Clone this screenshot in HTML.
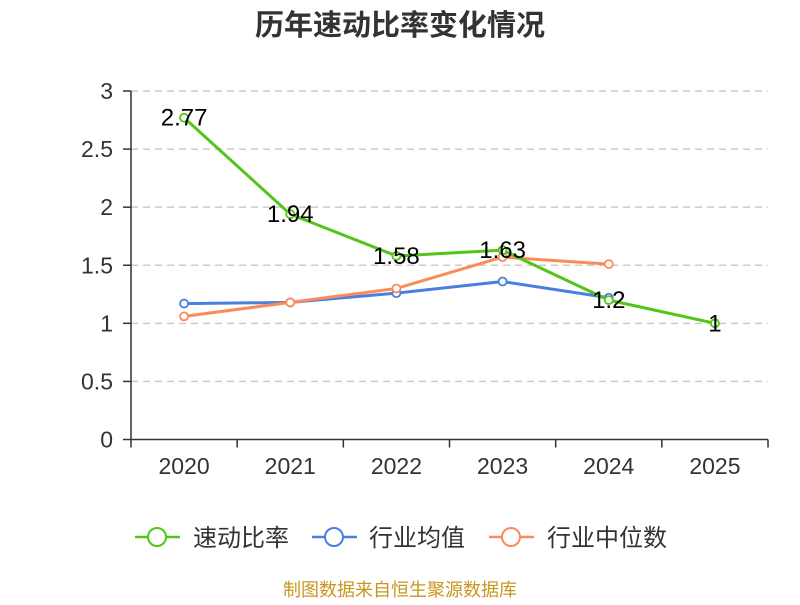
<!DOCTYPE html>
<html><head><meta charset="utf-8"><style>
body{margin:0;background:#fff;}
svg text{font-family:"Liberation Sans","Noto Sans CJK SC",sans-serif;}
</style></head><body>
<svg id="chart" width="800" height="600" viewBox="0 0 800 600">
<text x="400" y="35" text-anchor="middle" font-size="29" font-weight="bold" fill="#333">历年速动比率变化情况</text>
<g id="grid"></g><g id="axes"></g><g id="series"></g><g id="labels"></g>
<g>
<g><line x1="135" y1="537" x2="180" y2="537" stroke="#52c41a" stroke-width="2.5"/><circle cx="157" cy="537" r="9" fill="#fff" stroke="#52c41a" stroke-width="2"/><text x="193" y="546" font-size="24" fill="#333">速动比率</text></g>
<g><line x1="312" y1="537" x2="357" y2="537" stroke="#4a7ee0" stroke-width="2.5"/><circle cx="334" cy="537" r="9" fill="#fff" stroke="#4a7ee0" stroke-width="2"/><text x="369" y="546" font-size="24" fill="#333">行业均值</text></g>
<g><line x1="489" y1="537" x2="534" y2="537" stroke="#fb8c5a" stroke-width="2.5"/><circle cx="511" cy="537" r="9" fill="#fff" stroke="#fb8c5a" stroke-width="2"/><text x="547" y="546" font-size="24" fill="#333">行业中位数</text></g>
</g>
<text x="400" y="596" text-anchor="middle" font-size="18" fill="#c8961e">制图数据来自恒生聚源数据库</text>
</svg>
<script>
const categories=["2020","2021","2022","2023","2024","2025"];
const quickRatio=[2.77,1.94,1.58,1.63,1.2,1];
const industryMean=[1.17,1.18,1.26,1.36,1.22];
const industryMedian=[1.06,1.18,1.30,1.57,1.51];
const yTicks=[0,0.5,1,1.5,2,2.5,3];
const NS="http://www.w3.org/2000/svg";
const L=131,R=768,T=91,B=439.5,yMax=3;
const bw=(R-L)/categories.length;
const xS=i=>L+bw*(i+0.5);
const yS=v=>B-(v/yMax)*(B-T);
function mk(tag,attrs,parent,text){const e=document.createElementNS(NS,tag);for(const k in attrs)e.setAttribute(k,attrs[k]);if(text!==undefined)e.textContent=text;parent.appendChild(e);return e;}
const grid=document.getElementById('grid'),axes=document.getElementById('axes'),series=document.getElementById('series'),labels=document.getElementById('labels');
yTicks.forEach(v=>{
  if(v>0){const g=mk('line',{x1:L,x2:R,y1:yS(v),y2:yS(v),stroke:'#ccc','stroke-width':1.5,'stroke-dasharray':'7,5'},grid);
  
  }
  mk('line',{x1:L-8,x2:L,y1:yS(v),y2:yS(v),stroke:'#333','stroke-width':1.5},axes);
  const t=mk('text',{x:L-18,y:yS(v)+8,'text-anchor':'end','font-size':23,fill:'#333'},axes,String(v));
  
  
});
const ya=mk('line',{x1:L,x2:L,y1:T,y2:B,stroke:'#333','stroke-width':1.5},axes);


const xa=mk('line',{x1:L,x2:R,y1:B,y2:B,stroke:'#333','stroke-width':1.5},axes);


for(let i=0;i<=categories.length;i++)mk('line',{x1:L+bw*i,x2:L+bw*i,y1:B,y2:B+8,stroke:'#333','stroke-width':1.5},axes);
categories.forEach((c,i)=>{const t=mk('text',{x:xS(i),y:474,'text-anchor':'middle','font-size':23,fill:'#333'},axes,c);

});
function draw(data,color,name){
  const pts=data.map((v,i)=>xS(i)+','+yS(v)).join(' ');
  const pl=mk('polyline',{points:pts,fill:'none',stroke:color,'stroke-width':3,'stroke-linejoin':'round'},series);
  
  
  data.forEach((v,i)=>{const c=mk('circle',{cx:xS(i),cy:yS(v),r:4,fill:'#fff',stroke:color,'stroke-width':1.8},series);
  
  });
}
draw(industryMean,'#4a7ee0','industry-mean');
draw(industryMedian,'#fb8c5a','industry-median');
draw(quickRatio,'#52c41a','quick-ratio');
quickRatio.forEach((v,i)=>{const t=mk('text',{x:xS(i),y:yS(v)+8,'text-anchor':'middle','font-size':24,fill:'#000'},labels,String(v));

});
</script>
</body></html>
